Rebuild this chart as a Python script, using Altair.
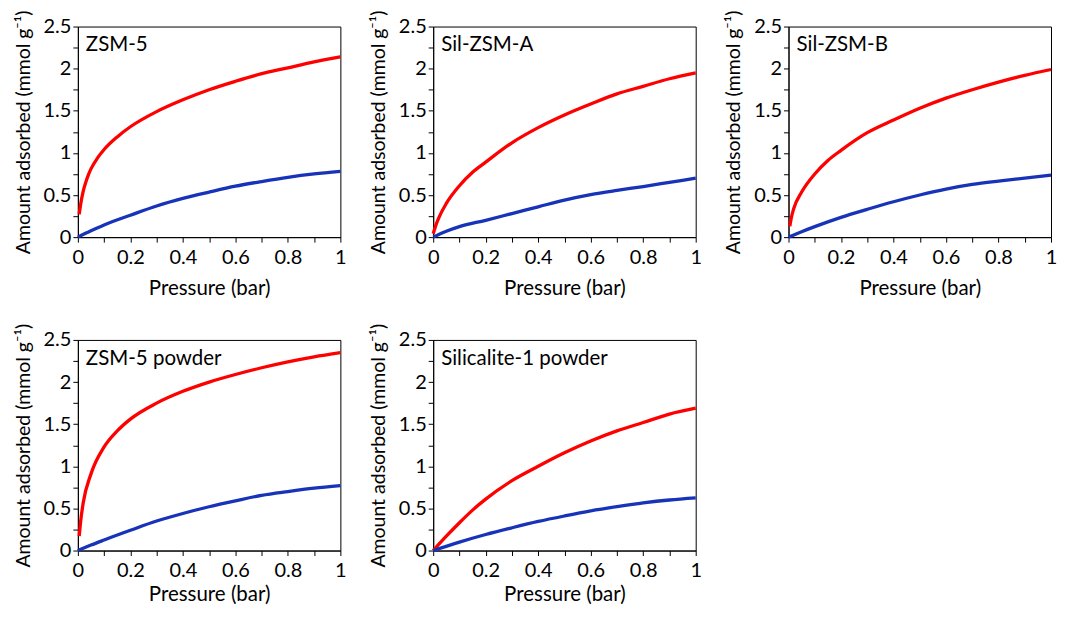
import altair as alt
import pandas as pd

# ---------------- data ----------------
panel_names = ["ZSM-5", "Sil-ZSM-A", "Sil-ZSM-B", "ZSM-5 powder", "Silicalite-1 powder"]

# ZSM-5
zsm5_red_p = [0.005, 0.01, 0.02, 0.03, 0.04, 0.05, 0.075, 0.1, 0.15, 0.2, 0.3, 0.4, 0.5, 0.6, 0.7, 0.8, 0.9, 1.0]
zsm5_red_q = [0.27, 0.38, 0.54, 0.65, 0.74, 0.81, 0.94, 1.04, 1.19, 1.31, 1.49, 1.63, 1.75, 1.85, 1.94, 2.01, 2.08, 2.14]
zsm5_blue_p = [0.0, 0.05, 0.1, 0.2, 0.3, 0.4, 0.5, 0.6, 0.7, 0.8, 0.9, 1.0]
zsm5_blue_q = [0.0, 0.075, 0.145, 0.26, 0.37, 0.46, 0.535, 0.605, 0.66, 0.71, 0.75, 0.78]

# Sil-ZSM-A
silA_red_p = [0.0, 0.01, 0.02, 0.05, 0.1, 0.15, 0.2, 0.3, 0.4, 0.5, 0.6, 0.7, 0.8, 0.9, 1.0]
silA_red_q = [0.04, 0.14, 0.22, 0.40, 0.61, 0.77, 0.89, 1.12, 1.30, 1.45, 1.58, 1.70, 1.79, 1.88, 1.95]
silA_blue_p = [0.0, 0.05, 0.1, 0.2, 0.3, 0.4, 0.5, 0.6, 0.7, 0.8, 0.9, 1.0]
silA_blue_q = [0.0, 0.07, 0.125, 0.20, 0.28, 0.36, 0.44, 0.505, 0.555, 0.60, 0.65, 0.70]

# Sil-ZSM-B
silB_red_p = [0.005, 0.01, 0.02, 0.05, 0.1, 0.15, 0.2, 0.3, 0.4, 0.5, 0.6, 0.7, 0.8, 0.9, 1.0]
silB_red_q = [0.13, 0.22, 0.34, 0.535, 0.75, 0.91, 1.03, 1.24, 1.39, 1.53, 1.65, 1.75, 1.84, 1.92, 1.99]
silB_blue_p = [0.0, 0.05, 0.1, 0.2, 0.3, 0.4, 0.5, 0.6, 0.7, 0.8, 0.9, 1.0]
silB_blue_q = [0.0, 0.065, 0.125, 0.235, 0.33, 0.42, 0.50, 0.57, 0.625, 0.665, 0.70, 0.735]

# ZSM-5 powder
zsm5pow_red_p = [0.005, 0.01, 0.02, 0.05, 0.1, 0.15, 0.2, 0.3, 0.4, 0.5, 0.6, 0.7, 0.8, 0.9, 1.0]
zsm5pow_red_q = [0.17, 0.33, 0.56, 0.91, 1.23, 1.42, 1.56, 1.75, 1.89, 2.00, 2.09, 2.17, 2.24, 2.30, 2.35]
zsm5pow_blue_p = [0.0, 0.05, 0.1, 0.2, 0.3, 0.4, 0.5, 0.6, 0.7, 0.8, 0.9, 1.0]
zsm5pow_blue_q = [0.0, 0.065, 0.125, 0.24, 0.35, 0.44, 0.52, 0.59, 0.655, 0.70, 0.74, 0.77]

# Silicalite-1 powder
sil1_red_p = [0.0, 0.05, 0.1, 0.15, 0.2, 0.3, 0.4, 0.5, 0.6, 0.7, 0.8, 0.9, 1.0]
sil1_red_q = [0.0, 0.17, 0.33, 0.48, 0.61, 0.83, 1.00, 1.16, 1.30, 1.42, 1.52, 1.62, 1.69]
sil1_blue_p = [0.0, 0.1, 0.2, 0.3, 0.4, 0.5, 0.6, 0.7, 0.8, 0.9, 1.0]
sil1_blue_q = [0.0, 0.10, 0.19, 0.27, 0.345, 0.41, 0.47, 0.52, 0.565, 0.60, 0.625]

series_names = ["red series", "blue series"]
series_colors = ["#FF0000", "#1733B8"]

x_tick_values = [0.0, 0.1, 0.2, 0.3, 0.4, 0.5, 0.6, 0.7, 0.8, 0.9, 1.0]
y_tick_values = [0.0, 0.25, 0.5, 0.75, 1.0, 1.25, 1.5, 1.75, 2.0, 2.25, 2.5]

FONT = "Lato"
LABEL_FS = 20

X_LABEL_EXPR = "round(datum.value*10) % 2 == 0 ? format(datum.value, '~g') : ''"
Y_LABEL_EXPR = "round(datum.value*100) % 50 == 0 ? format(datum.value, '~g') : ''"


def x_axis(title_pad):
    return alt.Axis(
        values=x_tick_values, labelExpr=X_LABEL_EXPR,
        grid=False, tickSize=5, labelFlush=False, labelOverlap=False,
        labelPadding=5, titlePadding=title_pad, titleFontSize=20.5,
    )


y_axis = alt.Axis(
    values=y_tick_values, labelExpr=Y_LABEL_EXPR,
    grid=False, tickSize=5, labelFlush=False, labelOverlap=False,
    labelPadding=2, titlePadding=10, titleFontSize=19.5,
)


def panel(name, rp, rq, bp, bq, title_pad):
    df = pd.DataFrame({
        "p": rp + bp,
        "q": rq + bq,
        "s": [series_names[0]] * len(rp) + [series_names[1]] * len(bp),
    })
    lines = alt.Chart(df).mark_line(strokeWidth=3.3, interpolate="monotone").encode(
        x=alt.X("p:Q", scale=alt.Scale(domain=[0, 1], nice=False, zero=True),
                axis=x_axis(title_pad), title="Pressure (bar)"),
        y=alt.Y("q:Q", scale=alt.Scale(domain=[0, 2.5], nice=False),
                axis=y_axis, title="Amount adsorbed (mmol g\u207b\u00b9)"),
        color=alt.Color("s:N", scale=alt.Scale(domain=series_names, range=series_colors),
                        legend=None),
    )
    lbl = alt.Chart(pd.DataFrame({"t": [name]})).mark_text(
        align="left", baseline="alphabetic", font=FONT, fontSize=20.5, color="black"
    ).encode(x=alt.value(8), y=alt.value(25), text="t:N")
    return alt.layer(lines, lbl).properties(width=263, height=211)


p1 = panel(panel_names[0], zsm5_red_p, zsm5_red_q, zsm5_blue_p, zsm5_blue_q, 11)
p2 = panel(panel_names[1], silA_red_p, silA_red_q, silA_blue_p, silA_blue_q, 11)
p3 = panel(panel_names[2], silB_red_p, silB_red_q, silB_blue_p, silB_blue_q, 11)
p4 = panel(panel_names[3], zsm5pow_red_p, zsm5pow_red_q, zsm5pow_blue_p, zsm5pow_blue_q, 4)
p5 = panel(panel_names[4], sil1_red_p, sil1_red_q, sil1_blue_p, sil1_blue_q, 4)

chart = alt.concat(
    p1, p2, p3, p4, p5, columns=3,
    spacing=alt.RowColnumber(row=103, column=93), bounds="flush",
).properties(
    padding={"left": 4, "top": 0, "right": 0, "bottom": 0},
    background="white",
).configure_view(
    stroke="black", strokeWidth=1
).configure_axis(
    domainColor="black", tickColor="black", labelColor="black", titleColor="black",
    labelFont=FONT, titleFont=FONT, labelFontSize=LABEL_FS,
    titleFontWeight="normal", domainWidth=1, tickWidth=1,
)

chart.save("out.html", embed_options={"renderer": "svg", "actions": False})
